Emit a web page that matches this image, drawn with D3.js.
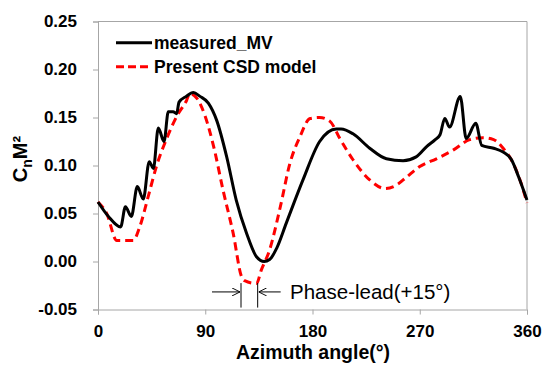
<!DOCTYPE html>
<html><head><meta charset="utf-8">
<script src="https://cdn.jsdelivr.net/npm/d3@7"></script>
<style>body{margin:0;background:#fff}svg{display:block;font-family:"Liberation Sans",Arial,sans-serif}</style>
</head><body><svg id="c" width="545" height="367"></svg>
<script>
const xTicks = [0, 90, 180, 270, 360];
const yTicks = [-0.05, 0.00, 0.05, 0.10, 0.15, 0.20, 0.25];
const measuredAngle = [0, 8.7, 19, 23, 28, 33, 38, 43, 46.5, 50.6, 55.4, 59, 63, 66, 68, 74, 80, 85.6, 92.6, 99.6, 108, 116, 124.8, 133, 139.5, 144, 150, 158, 172, 186, 200, 204, 214, 228, 242, 256, 267, 276, 283, 287, 291, 295, 304, 309, 317, 322, 332, 340, 347, 353, 360];
const measuredMV = [0.062, 0.047, 0.036, 0.057, 0.047, 0.078, 0.065, 0.104, 0.097, 0.139, 0.125, 0.156, 0.156, 0.154, 0.166, 0.172, 0.176, 0.172, 0.165, 0.147, 0.109, 0.064, 0.029, 0.005, 0.000, 0.002, 0.014, 0.040, 0.085, 0.125, 0.138, 0.138, 0.133, 0.118, 0.107, 0.105, 0.109, 0.120, 0.127, 0.132, 0.149, 0.140, 0.172, 0.128, 0.144, 0.121, 0.118, 0.114, 0.106, 0.088, 0.064];
const modelAngle = [0, 7.3, 15.7, 29.6, 35, 42, 49, 57.6, 66, 74.4, 77, 83, 90, 97, 105, 113.5, 120.5, 123, 133, 137, 144, 153, 161, 169.5, 178, 186, 194.7, 203, 214, 228, 241, 251, 259, 270, 284, 298, 312, 323, 332, 340, 348.5, 357, 360];
const modelCSD = [0.062, 0.050, 0.022, 0.022, 0.036, 0.067, 0.099, 0.128, 0.151, 0.168, 0.175, 0.170, 0.151, 0.120, 0.074, 0.029, -0.016, -0.020, -0.023, -0.009, 0.012, 0.057, 0.102, 0.130, 0.149, 0.150, 0.146, 0.128, 0.106, 0.085, 0.076, 0.080, 0.088, 0.099, 0.107, 0.116, 0.127, 0.129, 0.127, 0.118, 0.102, 0.074, 0.061];
const seriesNames = ["measured_MV", "Present CSD model"];
const phaseLead = [120, 134];
const phaseText = "Phase-lead(+15°)";

const svg = d3.select("#c");
const x = d3.scaleLinear().domain([0, 360]).range([98, 527]);
const y = d3.scaleLinear().domain([-0.05, 0.25]).range([309.5, 21.5]);
const grey = "#a6a6a6";

// plot border (top/right)
svg.append("path").attr("d", `M${x(0)},${y(0.25)}H${x(360)}V${y(-0.05)}`).attr("fill","none").attr("stroke",grey).attr("stroke-width",1);

const xa = svg.append("g").attr("transform",`translate(0,${y(-0.05)})`)
  .call(d3.axisBottom(x).tickValues(xTicks).tickSize(5).tickPadding(10).tickFormat(d3.format("d")));
const ya = svg.append("g").attr("transform",`translate(${x(0)},0)`)
  .call(d3.axisLeft(y).tickValues(yTicks).tickSize(5).tickPadding(16).tickFormat(d => d.toFixed(2).replace("\u2212","-")));
[xa, ya].forEach(a => {
  a.selectAll("path,line").attr("stroke", grey);
  a.selectAll("text").attr("fill","#000").attr("font-size",17).attr("font-weight","bold").attr("font-family","Liberation Sans, Arial, sans-serif");
});

const line = d3.line().x(d=>x(d[0])).y(d=>y(d[1])).curve(d3.curveMonotoneX);
const mData = measuredAngle.map((a,i)=>[a, measuredMV[i]]);
const cData = modelAngle.map((a,i)=>[a, modelCSD[i]]);
svg.append("path").datum(cData).attr("d", line).attr("fill","none").attr("stroke","#ff0000").attr("stroke-width",3).attr("stroke-dasharray","8,5");
svg.append("path").datum(mData).attr("d", line).attr("fill","none").attr("stroke","#000").attr("stroke-width",3);

// legend
const lg = svg.append("g");
[{c:"#000",d:null},{c:"#ff0000",d:"8,4"}].forEach((s,i)=>{
  const yy = 42.7 + i*24;
  lg.append("line").attr("x1",116).attr("x2",152).attr("y1",yy).attr("y2",yy).attr("stroke",s.c).attr("stroke-width",3).attr("stroke-dasharray",s.d);
  lg.append("text").attr("x",154).attr("y",yy+5.8).attr("font-size",17.5).attr("font-weight","bold").text(seriesNames[i]);
});

// axis titles
svg.append("text").attr("x",313).attr("y",359).attr("text-anchor","middle").attr("font-size",19.5).attr("font-weight","bold").text("Azimuth angle(°)");
const yl = svg.append("text").attr("transform","translate(27,159) rotate(-90)").attr("text-anchor","middle").attr("font-size",20).attr("font-weight","bold");
yl.append("tspan").text("C");
yl.append("tspan").attr("font-size",14).attr("dy",5).text("n");
yl.append("tspan").attr("dy",-5).text("M²");

// phase-lead annotation
const ann = svg.append("g").attr("stroke","#000").attr("stroke-width",1).attr("fill","none");
phaseLead.forEach(a => ann.append("line").attr("x1",x(a)).attr("x2",x(a)).attr("y1",y(-0.0225)).attr("y2",y(-0.048)));
const ay = y(-0.0317);
const defs = svg.append("defs");
defs.append("marker").attr("id","ah").attr("viewBox","0 0 10 10").attr("refX",10).attr("refY",5).attr("markerWidth",8).attr("markerHeight",8).attr("orient","auto-start-reverse").attr("markerUnits","userSpaceOnUse")
  .append("path").attr("d","M0,0L10,5L0,10").attr("fill","none").attr("stroke","#000").attr("stroke-width",1.2);
ann.append("line").attr("x1",x(phaseLead[0])-29).attr("x2",x(phaseLead[0])-1).attr("y1",ay).attr("y2",ay).attr("marker-end","url(#ah)");
ann.append("line").attr("x1",x(phaseLead[1])+23).attr("x2",x(phaseLead[1])+1).attr("y1",ay).attr("y2",ay).attr("marker-end","url(#ah)");
svg.append("text").attr("x",290).attr("y",298.5).attr("font-size",20.5).text(phaseText);
</script></body></html>
